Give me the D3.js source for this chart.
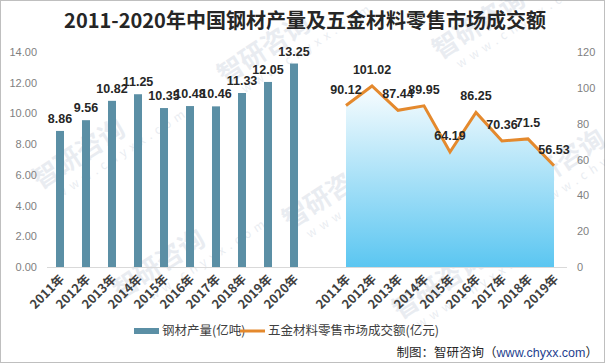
<!DOCTYPE html>
<html lang="zh">
<head>
<meta charset="UTF-8">
<title>2011-2020年中国钢材产量及五金材料零售市场成交额</title>
<script src="https://d3js.org/d3.v7.min.js"></script>
<style>
    body { margin: 0; background: #fff; }
    svg text { font-family: "Noto Sans CJK SC", "Noto Sans", sans-serif; }
</style>
</head>
<body>
<svg width="605" height="363"></svg>
<script>
    // data
    const steelYears = ["2011年", "2012年", "2013年", "2014年", "2015年", "2016年", "2017年", "2018年", "2019年", "2020年"];
    const steelOutput = [8.86, 9.56, 10.82, 11.25, 10.35, 10.48, 10.46, 11.33, 12.05, 13.25];
    const hwYears = ["2011年", "2012年", "2013年", "2014年", "2015年", "2016年", "2017年", "2018年", "2019年"];
    const hwSales = [90.12, 101.02, 87.44, 89.95, 64.19, 86.25, 70.36, 71.5, 56.53];
    const leftTicks = [0, 2, 4, 6, 8, 10, 12, 14];
    const rightTicks = [0, 20, 40, 60, 80, 100, 120];

    const svg = d3.select("svg");
    const W = 605, H = 363;

    svg.append("rect").attr("x", 0.5).attr("y", 0.5).attr("width", W - 1).attr("height", H - 1)
        .attr("fill", "#fff").attr("stroke", "#bfbfbf");

    // 20 slots: 10 bars, 1 empty, 9 line points
    const slots = steelYears.map((d, i) => "s" + i).concat(["gap"]).concat(hwYears.map((d, i) => "h" + i));
    const x = d3.scaleBand().domain(slots).range([47, 567]);
    const yL = d3.scaleLinear().domain([0, 14]).range([267, 52]);
    const yR = d3.scaleLinear().domain([0, 120]).range([267, 52]);

    // watermarks
    const wm = [[225, 85], [40, 190], [440, 60], [520, 200], [120, 300], [290, 230], [400, 320]];
    wm.forEach(([wx, wy]) => {
        const g = svg.append("g").attr("transform", `translate(${wx},${wy}) rotate(-33)`).attr("opacity", 0.15);
        g.append("text").attr("x", 0).attr("y", 0).attr("font-size", 26).attr("font-weight", "bold")
            .attr("fill", "#6f86a6").text("智研咨询");
        g.append("text").attr("x", 12).attr("y", 18).attr("font-size", 12).attr("letter-spacing", 5)
            .attr("fill", "#6f86a6").text("www.chyxx.com");
    });

    // title
    svg.append("text").attr("x", 305).attr("y", 28).attr("text-anchor", "middle")
        .attr("font-size", 20).attr("font-weight", "bold").attr("fill", "#262626")
        .text("2011-2020年中国钢材产量及五金材料零售市场成交额");

    // axes
    const axL = svg.append("g").attr("transform", "translate(47,0)")
        .call(d3.axisLeft(yL).tickValues(leftTicks).tickFormat(d3.format(".2f")).tickSize(0).tickPadding(10));
    const axR = svg.append("g").attr("transform", "translate(567,0)")
        .call(d3.axisRight(yR).tickValues(rightTicks).tickSize(0).tickPadding(10));
    [axL, axR].forEach(a => {
        a.select(".domain").remove();
        a.selectAll("text").attr("fill", "#7f7f7f").attr("font-size", 11)
            .style("font-family", "'Liberation Sans', sans-serif");
    });

    // area + line
    const hwData = hwSales.map((v, i) => ({ k: "h" + i, v }));
    const cx = d => x(d.k) + x.bandwidth() / 2;

    const grad = svg.append("defs").append("linearGradient").attr("id", "ag")
        .attr("gradientUnits", "userSpaceOnUse").attr("x1", 0).attr("x2", 0).attr("y1", yR(105)).attr("y2", yR(0));
    grad.append("stop").attr("offset", 0).attr("stop-color", "#ffffff");
    grad.append("stop").attr("offset", 1).attr("stop-color", "#5bc6f1");

    svg.append("path").datum(hwData)
        .attr("d", d3.area().x(cx).y0(yR(0)).y1(d => yR(d.v)))
        .attr("fill", "url(#ag)");

    // bars
    const steelData = steelOutput.map((v, i) => ({ k: "s" + i, v }));
    const bw = 8;
    svg.selectAll(".bar").data(steelData).enter().append("rect")
        .attr("class", "bar")
        .attr("x", d => cx(d) - bw / 2)
        .attr("y", d => yL(d.v))
        .attr("width", bw)
        .attr("height", d => yL(0) - yL(d.v))
        .attr("fill", "#5b8fa5");

    // baseline
    svg.append("line").attr("x1", 47).attr("x2", 567).attr("y1", 267.5).attr("y2", 267.5)
        .attr("stroke", "#d9d9d9");

    svg.append("path").datum(hwData)
        .attr("d", d3.line().x(cx).y(d => yR(d.v)))
        .attr("fill", "none").attr("stroke", "#e4892d").attr("stroke-width", 3)
        .attr("stroke-linejoin", "miter");

    // data labels
    const lblFont = "'Liberation Sans', sans-serif";
    svg.selectAll(".bl").data(steelData).enter().append("text")
        .attr("x", cx).attr("y", d => yL(d.v) - 8)
        .attr("text-anchor", "middle").attr("font-size", 12.5).attr("font-weight", "bold")
        .attr("fill", "#262626").style("font-family", lblFont)
        .text(d => d.v.toFixed(2));

    svg.selectAll(".ll").data(hwData).enter().append("text")
        .attr("x", cx).attr("y", d => yR(d.v) - 12)
        .attr("text-anchor", "middle").attr("font-size", 12.5).attr("font-weight", "bold")
        .attr("fill", "#262626").style("font-family", lblFont)
        .text(d => String(d.v));

    // x labels
    const xLabels = steelYears.map((t, i) => ({ k: "s" + i, t })).concat(hwYears.map((t, i) => ({ k: "h" + i, t })));
    svg.selectAll(".xl").data(xLabels).enter().append("text")
        .attr("transform", d => `translate(${cx(d) + 5},${280}) rotate(-45)`)
        .attr("text-anchor", "end").attr("font-size", 12.5).attr("font-weight", "bold")
        .attr("fill", "#404040")
        .text(d => d.t);

    // legend
    svg.append("rect").attr("x", 134).attr("y", 328).attr("width", 25).attr("height", 6).attr("fill", "#5b8fa5");
    svg.append("text").attr("x", 162).attr("y", 335).attr("font-size", 12.5).attr("fill", "#404040")
        .text("钢材产量(亿吨)");
    svg.append("line").attr("x1", 240).attr("x2", 265).attr("y1", 331).attr("y2", 331)
        .attr("stroke", "#e4892d").attr("stroke-width", 3);
    svg.append("text").attr("x", 268).attr("y", 335).attr("font-size", 12.5).attr("fill", "#404040")
        .text("五金材料零售市场成交额(亿元)");

    // source
    const src = svg.append("text").attr("x", 598).attr("y", 357).attr("text-anchor", "end")
        .attr("font-size", 12.5).attr("fill", "#262626");
    src.append("tspan").text("制图：智研咨询（");
    src.append("tspan").attr("fill", "#1f3f8f").style("font-family", "'Liberation Sans', sans-serif").text("www.chyxx.com");
    src.append("tspan").text("）");
</script>
</body>
</html>
